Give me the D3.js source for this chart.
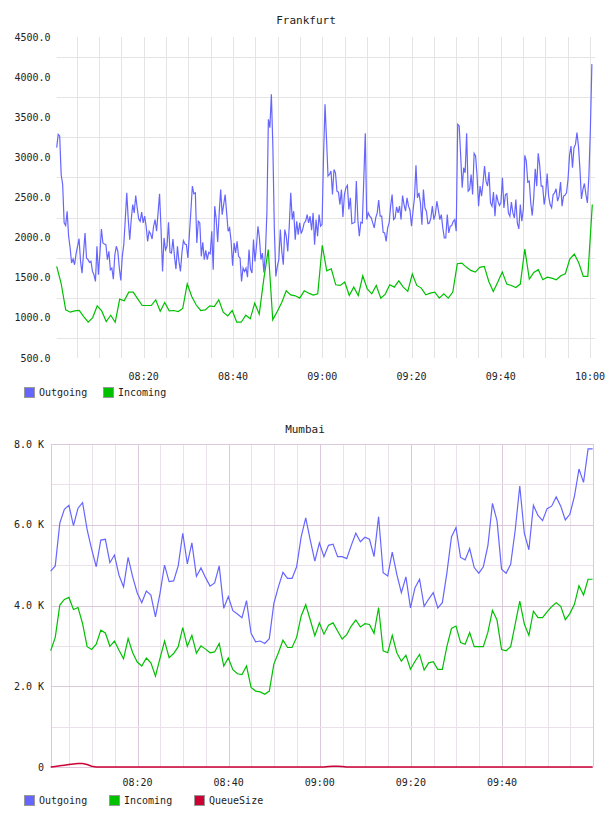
<!DOCTYPE html>
<html>
<head>
<meta charset="utf-8">
<script src="https://cdn.jsdelivr.net/npm/d3@7"></script>
<style>
body { margin: 0; background: #fff; }
text { font-family: "DejaVu Sans Mono", monospace; fill: #222; }
</style>
</head>
<body>
<div id="chart"></div>
<script>
// Frankfurt, outgoing sampled every ~20s, incoming every minute
const fraOutgoing = [
  3121, 3287, 3267, 2787, 2662, 2183, 2150, 2329, 2017, 1871,
  1683, 1733, 1662, 1800, 1892, 1987, 1704, 1558, 1808, 2058,
  1746, 1725, 1692, 1704, 1579, 1537, 1454, 1892, 1537, 1808,
  2108, 1933, 1921, 1912, 1725, 1829, 1600, 1621, 1483, 1787,
  1892, 1829, 1621, 1467, 1767, 1912, 2225, 2558, 2225, 1975,
  2225, 2412, 2308, 2525, 2371, 2233, 2204, 2317, 2183, 2267,
  2142, 1954, 2079, 2046, 1983, 2142, 2225, 2079, 2308, 2546,
  2100, 1579, 1996, 1850, 1892, 2192, 1817, 1808, 1983, 1767,
  1608, 1892, 1704, 1579, 1808, 1962, 1921, 1912, 1746, 2037,
  2329, 2642, 2546, 2558,
  1933, 2204, 2183, 1767, 1942, 1725, 1842, 1725, 1817, 1800,
  2079, 1600, 2392, 2225, 1946, 2308, 2600, 2287, 2412, 2537,
  2308, 2079, 2121, 1954, 1650, 1933, 1808, 1954, 1767, 1746,
  1454, 1621, 1579, 1621, 1508, 1850, 1608, 1558, 1975, 1704,
  1892, 2142, 1996, 1725, 1808, 1567, 1808, 2308, 3475, 3371,
  3787, 3142, 2100, 1517, 1642, 1725, 2100, 1829, 1662, 2100,
  2017, 1829, 2142, 2558, 2225, 2329, 1975, 2204, 2037, 2183,
  2050, 2100, 2183, 2204, 2287, 2183, 2267, 2092, 2308, 1912,
  2225, 2017, 2287, 2142, 2162, 3017, 3662, 3225, 2767, 2787,
  2829, 2537, 2850, 2808, 2579, 2567, 2412, 2600, 2258, 2537,
  2621, 2650, 2350, 2496, 2175, 2183, 2192, 2704, 2225, 2017,
  2192, 2183, 2725, 3300, 2225, 2308, 2267, 2246, 2183, 2121,
  2246, 2308, 2467, 2267, 2267, 2067, 2058, 1954, 2121, 2183,
  2392, 2537, 2225, 2246, 2383, 2308, 2392, 2225, 2525, 2412,
  2329, 2496, 2392, 2342, 2142, 2329, 2496, 2900, 2496, 2558,
  2433, 2162, 2600, 2371, 2329, 2175, 2183, 2246, 2392, 2225,
  2287, 2454, 2350, 2225, 2287, 2121, 1996, 1996, 2287, 2058,
  2142, 2150, 2204, 2225, 2079, 3412, 3392, 3017, 2621, 2871, 2808,
  3300, 2579, 2600, 2787, 2537, 3050, 3017, 2767, 2392, 2642,
  2517, 2683, 2892, 2704, 2642, 2817, 2433, 2392, 2567, 2267,
  2537, 2454, 2400, 2433, 2746, 2371, 2537, 2550, 2308, 2267,
  2442, 2308, 2246, 2475, 2183, 2108, 2412, 2204, 2350, 3025,
  2954, 2692, 2704, 2433, 2275, 2496, 2858, 2642, 3050, 2900,
  2642, 2642, 2412, 2537, 2800, 2517, 2412, 2371, 2537, 2558,
  2608, 2454, 2517, 2692, 2392, 2517, 2529, 2558, 2725, 3025,
  3142, 2871, 3121, 3162, 3308, 3142, 2850, 2483, 2600, 2675,
  2537, 2433, 2767, 3350, 4162
];
const fraIncoming = [
  1642, 1425, 1100, 1071, 1087, 1092, 1017, 946, 1004, 1150,
  1087, 954, 1033, 946, 1233, 1212, 1321, 1321, 1237, 1154,
  1154, 1154, 1225, 1083, 1192, 1087, 1092, 1079, 1117, 1425, 1267,
  1160, 1092, 1100, 1150, 1142, 1225, 1071, 1025, 1092, 946,
  946, 1033, 988, 1183, 1046, 1480, 1850, 975, 1079, 1192,
  1337, 1287, 1275, 1246, 1337, 1308, 1283, 1300, 1904, 1587,
  1612, 1412, 1404, 1446, 1279, 1383, 1279, 1525, 1362, 1300,
  1404, 1246, 1296, 1412, 1383, 1462, 1383, 1329, 1546, 1404,
  1371, 1287, 1308, 1321, 1246, 1300, 1246, 1321, 1675, 1683,
  1633, 1592, 1571, 1629, 1642, 1454, 1329, 1446, 1571, 1421,
  1404, 1379, 1421, 1858, 1483, 1567, 1600, 1475, 1508, 1496,
  1475, 1525, 1550, 1733, 1796, 1683, 1517, 1517, 2412
];

// Mumbai, one sample per minute
const mumOutgoing = [
  4850, 4980, 6040, 6380, 6480, 5980, 6410, 6550, 5880, 5390,
  4960, 5620, 5640, 5060, 5250, 4750, 4460, 5190, 4710, 4310,
  4070, 4360, 4260, 3720, 4300, 5000, 4590, 4610, 4980, 5790,
  5030, 5550, 4720, 4930, 4690, 4480, 4560, 4980, 3930, 4220,
  3870, 3790, 3700, 4120, 3310, 3100, 3120, 3060, 3180, 4050,
  4460, 4820, 4670, 4670, 4960, 5700, 6170, 5620, 5100, 5550,
  5210, 5490, 5520, 5210, 5210, 5160, 5490, 5790, 5580, 5690,
  5640, 5210, 6200, 4810, 4730, 5320, 4770, 4320, 4710, 3940,
  4440, 4650, 3980, 4160, 4320, 3940, 4070, 4810, 5700, 5930,
  5190, 5130, 5410, 4940, 4800, 4960, 5480, 6530, 6100, 4900,
  4800, 5020, 5870, 6960, 5790, 5380, 6480, 6230, 6100, 6400,
  6460, 6690, 6460, 6120, 6260, 6700, 7380, 7050, 7880, 7880
];
const mumIncoming = [
  2880, 3210, 4010, 4150, 4200, 3900, 3950, 3550, 2980, 2910,
  3040, 3390, 3320, 2990, 3120, 2890, 2680, 3180, 2830, 2600,
  2500, 2700, 2580, 2250, 2690, 3120, 2710, 2810, 2980, 3450,
  2990, 3260, 2820, 3000, 2920, 2830, 2850, 3060, 2500, 2700,
  2410, 2310, 2290, 2500, 1970, 1880, 1860, 1800, 1880, 2550,
  2830, 3140, 2960, 2960, 3210, 3740, 4020, 3640, 3250, 3570,
  3290, 3510, 3570, 3370, 3170, 3280, 3490, 3640, 3470, 3550,
  3530, 3310, 3950, 2880, 2830, 3260, 2830, 2620, 2770, 2420,
  2620, 2790, 2400, 2580, 2610, 2420, 2420, 2990, 3430, 3490,
  3080, 3040, 3330, 2980, 2980, 2980, 3340, 3880, 3640, 2910,
  2880, 2980, 3540, 4110, 3540, 3260, 3860, 3700, 3700, 3840,
  3970, 4070, 3980, 3650, 3800, 4030, 4490, 4260, 4650, 4650
];
const mumQueue = [
  0, 15, 30, 45, 60, 75, 85, 85, 60, 20,
  0, 0, 0, 0, 0, 0, 0, 0, 0, 0,
  0, 0, 0, 0, 0, 0, 0, 0, 0, 0,
  0, 0, 0, 0, 0, 0, 0, 0, 0, 0,
  0, 0, 0, 0, 0, 0, 0, 0, 0, 0,
  0, 0, 0, 0, 0, 0, 0, 0, 0, 0,
  0, 10, 20, 20, 10, 0, 0, 0, 0, 0,
  0, 0, 0, 0, 0, 0, 0, 0, 0, 0,
  0, 0, 0, 0, 0, 0, 0, 0, 0, 0,
  0, 0, 0, 0, 0, 0, 0, 0, 0, 0,
  0, 0, 0, 0, 0, 0, 0, 0, 0, 0,
  0, 0, 0, 0, 0, 0, 0, 0, 0, 0
];

const fraYTicks = [500, 1000, 1500, 2000, 2500, 3000, 3500, 4000, 4500];
const fraYGrid = [750, 1250, 1750, 2250, 2750, 3250, 3750, 4250];
const mumYTicks = [0, 2000, 4000, 6000, 8000];
const mumYMinor = [1000, 3000, 5000, 7000];

const colOut = "#6666ff", colIn = "#00c000", colQueue = "#cc0033";

const base = new Date(2013, 0, 1, 8, 0, 0);
function at(min) { return new Date(base.getTime() + min * 60000); }

// samples are evenly spaced between first and last timestamp
function spread(values, t0, t1) {
    let step = (t1 - t0) / (values.length - 1);
    return values.map((v, i) => ({ t: at(t0 + i * step), v: v }));
}

const fmtTime = d3.timeFormat("%H:%M");

var svg = d3.select("#chart")
    .append("svg")
    .attr("width", 608)
    .attr("height", 816);

function legend(g, items, xs, y) {
    items.forEach((d, i) => {
        g.append("rect")
            .attr("x", xs[i] + 0.5).attr("y", y - 5 + 0.5)
            .attr("width", 10).attr("height", 10)
            .style("fill", d.color)
            .attr("stroke", "#999")
            .attr("stroke-width", 1);
        g.append("text")
            .attr("x", xs[i] + 15).attr("y", y)
            .attr("dy", "0.35em")
            .style("font-size", "10px")
            .text(d.name);
    });
}

// ---------- Frankfurt ----------
let fx = d3.scaleTime().domain([at(0.52), at(121.1)]).range([56.7, 595]);
let fy = d3.scaleLinear().domain([500, 4500]).range([358, 37]);

let gTop = svg.append("g");

gTop.selectAll(".vgrid")
    .data(fx.ticks(d3.timeMinute.every(5)))
    .enter().append("line")
    .attr("x1", d => Math.round(fx(d)) + 0.5)
    .attr("x2", d => Math.round(fx(d)) + 0.5)
    .attr("y1", fy(4500)).attr("y2", fy(500))
    .attr("stroke", "#e4e4e4");

gTop.selectAll(".hgrid")
    .data(fraYGrid)
    .enter().append("line")
    .attr("x1", fx.range()[0]).attr("x2", fx.range()[1])
    .attr("y1", d => Math.round(fy(d)) + 0.5)
    .attr("y2", d => Math.round(fy(d)) + 0.5)
    .attr("stroke", "#e4e4e4");

gTop.selectAll(".ylab")
    .data(fraYTicks)
    .enter().append("text")
    .attr("x", 50.5).attr("y", d => fy(d))
    .attr("dy", "0.35em")
    .attr("text-anchor", "end")
    .style("font-size", "10px")
    .text(d => d.toFixed(1));

gTop.selectAll(".xlab")
    .data(fx.ticks(d3.timeMinute.every(20)))
    .enter().append("text")
    .attr("x", d => fx(d)).attr("y", 376)
    .attr("dy", "0.35em")
    .attr("text-anchor", "middle")
    .style("font-size", "10px")
    .text(d => fmtTime(d));

gTop.append("text")
    .attr("x", 306).attr("y", 20)
    .attr("dy", "0.35em")
    .attr("text-anchor", "middle")
    .style("font-size", "11px")
    .text("Frankfurt");

let fline = d3.line().x(d => fx(d.t)).y(d => fy(d.v)).curve(d3.curveLinear);

gTop.append("path")
    .attr("d", fline(spread(fraOutgoing, 0.52, 120.4)))
    .attr("fill", "none").attr("stroke", colOut).attr("stroke-width", 1.2);

gTop.append("path")
    .attr("d", fline(spread(fraIncoming, 0.52, 120.5)))
    .attr("fill", "none").attr("stroke", colIn).attr("stroke-width", 1.2);

legend(gTop, [{ name: "Outgoing", color: colOut }, { name: "Incoming", color: colIn }], [24, 103], 392);

// ---------- Mumbai ----------
let mx = d3.scaleTime().domain([at(0.94), at(119.98)]).range([50.7, 593]);
let my = d3.scaleLinear().domain([0, 8000]).range([767, 444]);

let gBot = svg.append("g");
let minorCol = "#ebe1eb", majorCol = "#dccadc";

gBot.selectAll(".vminor")
    .data(mx.ticks(d3.timeMinute.every(5)))
    .enter().append("line")
    .attr("x1", d => Math.round(mx(d)) + 0.5)
    .attr("x2", d => Math.round(mx(d)) + 0.5)
    .attr("y1", my(8000)).attr("y2", my(0))
    .attr("stroke", d => d.getMinutes() % 20 == 0 ? majorCol : minorCol);

gBot.selectAll(".hminor")
    .data(mumYMinor)
    .enter().append("line")
    .attr("x1", mx.range()[0]).attr("x2", mx.range()[1])
    .attr("y1", d => Math.round(my(d)) + 0.5)
    .attr("y2", d => Math.round(my(d)) + 0.5)
    .attr("stroke", minorCol);

gBot.selectAll(".hmajor")
    .data(mumYTicks)
    .enter().append("line")
    .attr("x1", mx.range()[0]).attr("x2", mx.range()[1])
    .attr("y1", d => Math.round(my(d)) + 0.5)
    .attr("y2", d => Math.round(my(d)) + 0.5)
    .attr("stroke", majorCol);

gBot.selectAll(".border")
    .data(mx.range())
    .enter().append("line")
    .attr("x1", d => Math.round(d) + 0.5).attr("x2", d => Math.round(d) + 0.5)
    .attr("y1", my(8000)).attr("y2", my(0))
    .attr("stroke", majorCol);

gBot.selectAll(".ylab")
    .data(mumYTicks)
    .enter().append("text")
    .attr("x", 44).attr("y", d => my(d))
    .attr("dy", "0.35em")
    .attr("text-anchor", "end")
    .style("font-size", "10px")
    .text(d => d == 0 ? "0" : (d / 1000).toFixed(1) + " K");

gBot.selectAll(".xlab")
    .data(mx.ticks(d3.timeMinute.every(20)))
    .enter().append("text")
    .attr("x", d => mx(d)).attr("y", 782)
    .attr("dy", "0.35em")
    .attr("text-anchor", "middle")
    .style("font-size", "10px")
    .text(d => fmtTime(d));

gBot.append("text")
    .attr("x", 305).attr("y", 429)
    .attr("dy", "0.35em")
    .attr("text-anchor", "middle")
    .style("font-size", "11px")
    .text("Mumbai");

let mline = d3.line().x(d => mx(d.t)).y(d => my(d.v)).curve(d3.curveLinear);

gBot.append("path")
    .attr("d", mline(spread(mumOutgoing, 0.94, 119.9)))
    .attr("fill", "none").attr("stroke", colOut).attr("stroke-width", 1.2);

gBot.append("path")
    .attr("d", mline(spread(mumIncoming, 0.94, 119.9)))
    .attr("fill", "none").attr("stroke", colIn).attr("stroke-width", 1.2);

gBot.append("path")
    .attr("d", mline(spread(mumQueue, 0.94, 119.9)))
    .attr("fill", "none").attr("stroke", colQueue).attr("stroke-width", 1.5);

legend(gBot, [{ name: "Outgoing", color: colOut }, { name: "Incoming", color: colIn }, { name: "QueueSize", color: colQueue }], [24, 109, 194], 800);
</script>
</body>
</html>
